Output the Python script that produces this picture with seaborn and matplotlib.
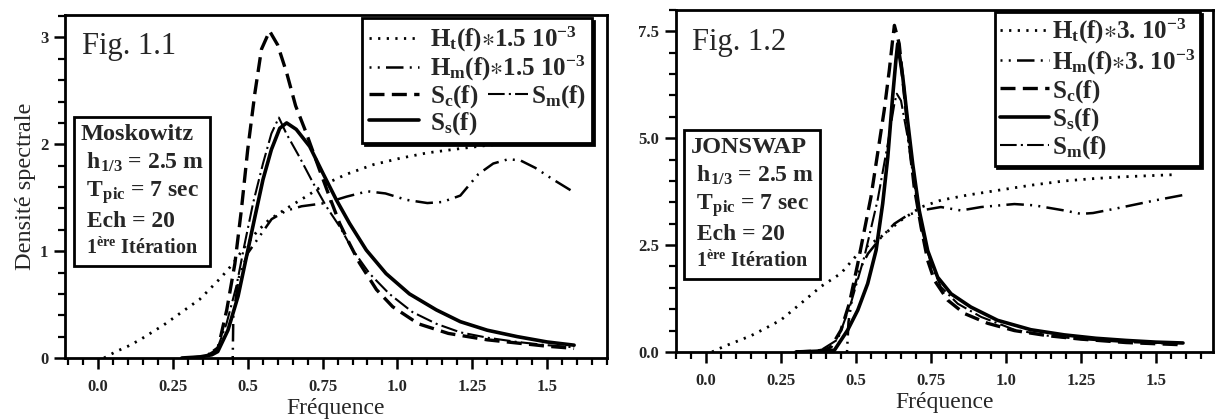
import matplotlib
matplotlib.use("Agg")
import matplotlib.pyplot as plt
from matplotlib.ticker import MultipleLocator
from matplotlib.offsetbox import TextArea, VPacker, AnchoredOffsetbox
import seaborn as sns

# ---------------------------------------------------------------- data
# Fig. 1.1 : Moskowitz spectrum
mosk_ht_f = [0.02, 0.06, 0.10, 0.14, 0.18, 0.22, 0.27, 0.34, 0.41, 0.45, 0.49, 0.53,
             0.57, 0.63, 0.70, 0.76, 0.83, 0.92, 1.01, 1.10, 1.21, 1.30, 1.40, 1.50, 1.57]
mosk_ht_s = [0.00, 0.06, 0.11, 0.17, 0.24, 0.31, 0.41, 0.55, 0.75, 0.88, 1.04, 1.18,
             1.29, 1.40, 1.52, 1.63, 1.72, 1.81, 1.87, 1.92, 1.96, 1.99, 2.02, 2.04, 2.06]

mosk_hm_f = [0.45, 0.452, 0.47, 0.50, 0.54, 0.58, 0.63, 0.68, 0.76, 0.83, 0.90, 0.96,
             1.03, 1.10, 1.15, 1.21, 1.27, 1.32, 1.37, 1.41, 1.46, 1.52, 1.59]
mosk_hm_s = [0.00, 0.40, 0.75, 0.98, 1.14, 1.30, 1.38, 1.42, 1.45, 1.51, 1.56, 1.54,
             1.48, 1.45, 1.46, 1.52, 1.72, 1.82, 1.86, 1.85, 1.78, 1.67, 1.55]

mosk_sc_f = [0.30, 0.36, 0.40, 0.43, 0.457, 0.479, 0.50, 0.524, 0.546, 0.573, 0.60, 0.63,
             0.66, 0.695, 0.74, 0.773, 0.807, 0.84, 0.873, 0.93, 0.984, 1.07, 1.17, 1.30,
             1.40, 1.50, 1.59]
mosk_sc_s = [0.00, 0.01, 0.08, 0.45, 0.88, 1.39, 1.95, 2.48, 2.89, 3.06, 2.93, 2.67,
             2.36, 2.11, 1.76, 1.51, 1.26, 1.07, 0.89, 0.64, 0.48, 0.32, 0.23, 0.17,
             0.14, 0.11, 0.09]

mosk_ss_f = [0.28, 0.34, 0.38, 0.40, 0.434, 0.468, 0.496, 0.524, 0.551, 0.579, 0.607, 0.63,
             0.662, 0.707, 0.751, 0.796, 0.84, 0.896, 0.962, 1.04, 1.13, 1.21, 1.30, 1.40,
             1.50, 1.59]
mosk_ss_s = [0.00, 0.01, 0.03, 0.06, 0.26, 0.58, 0.95, 1.32, 1.67, 1.95, 2.15, 2.20,
             2.14, 1.98, 1.73, 1.48, 1.26, 1.01, 0.79, 0.60, 0.45, 0.34, 0.26, 0.20,
             0.15, 0.12]

mosk_sm_f = [0.30, 0.36, 0.40, 0.429, 0.462, 0.49, 0.518, 0.551, 0.579, 0.604, 0.629, 0.673,
             0.718, 0.762, 0.807, 0.851, 0.907, 0.973, 1.05, 1.13, 1.21, 1.30, 1.40, 1.50, 1.59]
mosk_sm_s = [0.00, 0.02, 0.10, 0.32, 0.67, 1.07, 1.45, 1.82, 2.10, 2.25, 2.10, 1.88,
             1.64, 1.42, 1.23, 1.01, 0.79, 0.60, 0.43, 0.32, 0.24, 0.19, 0.15, 0.12, 0.10]

# Fig. 1.2 : JONSWAP spectrum
jon_ht_f = [0.02, 0.06, 0.10, 0.15, 0.20, 0.25, 0.317, 0.383, 0.45, 0.517, 0.583, 0.65,
            0.717, 0.783, 0.872, 0.972, 1.083, 1.194, 1.30, 1.40, 1.50, 1.57]
jon_ht_s = [0.00, 0.13, 0.24, 0.38, 0.56, 0.75, 1.14, 1.53, 1.84, 2.38, 2.69, 3.08,
            3.39, 3.55, 3.67, 3.78, 3.90, 4.00, 4.06, 4.10, 4.13, 4.15]

jon_hm_f = [0.47, 0.475, 0.49, 0.51, 0.54, 0.58, 0.628, 0.672, 0.717, 0.783, 0.85, 0.917,
            1.028, 1.094, 1.194, 1.25, 1.29, 1.37, 1.50, 1.59]
jon_hm_s = [0.00, 0.70, 1.40, 1.90, 2.30, 2.65, 3.00, 3.20, 3.31, 3.39, 3.31, 3.39,
            3.46, 3.43, 3.31, 3.23, 3.25, 3.36, 3.55, 3.67]

jon_sc_f = [0.30, 0.37, 0.40, 0.417, 0.45, 0.478, 0.506, 0.528, 0.55, 0.572, 0.594, 0.611,
            0.622, 0.628, 0.644, 0.661, 0.678, 0.694, 0.717, 0.739, 0.761, 0.806, 0.861,
            0.939, 1.028, 1.139, 1.25, 1.40, 1.58]
jon_sc_s = [0.00, 0.02, 0.06, 0.12, 0.51, 1.14, 2.07, 2.85, 3.63, 4.64, 5.65, 6.59,
            7.29, 7.64, 7.21, 6.04, 4.87, 3.86, 2.92, 2.14, 1.68, 1.21, 0.90,
            0.67, 0.50, 0.38, 0.30, 0.22, 0.17]

jon_ss_f = [0.30, 0.38, 0.428, 0.472, 0.506, 0.539, 0.567, 0.589, 0.606, 0.622, 0.633, 0.639,
            0.656, 0.672, 0.689, 0.711, 0.739, 0.772, 0.817, 0.883, 0.972, 1.083, 1.194,
            1.30, 1.40, 1.50, 1.59]
jon_ss_s = [0.00, 0.02, 0.04, 0.51, 0.98, 1.60, 2.38, 3.47, 4.56, 5.96, 6.82, 7.21,
            6.43, 5.41, 4.40, 3.30, 2.37, 1.75, 1.36, 1.05, 0.74, 0.52, 0.40,
            0.32, 0.27, 0.23, 0.21]

jon_sm_f = [0.30, 0.38, 0.439, 0.483, 0.528, 0.572, 0.606, 0.628, 0.636, 0.65, 0.672, 0.694,
            0.717, 0.75, 0.783, 0.839, 0.917, 1.028, 1.139, 1.25, 1.40, 1.58]
jon_sm_s = [0.00, 0.03, 0.29, 1.14, 2.23, 3.55, 4.87, 5.81, 6.04, 5.88, 5.03, 3.94,
            2.92, 2.06, 1.52, 1.13, 0.82, 0.52, 0.38, 0.30, 0.23, 0.19]

x_ticks = [0.0, 0.25, 0.5, 0.75, 1.0, 1.25, 1.5]
x_tick_labels = ["0.0", "0.25", "0.5", "0.75", "1.0", "1.25", "1.5"]
mosk_y_ticks = [0, 1, 2, 3]
mosk_y_tick_labels = ["0", "1", "2", "3"]
jon_y_ticks = [0.0, 2.5, 5.0, 7.5]
jon_y_tick_labels = ["0.0", "2.5", "5.0", "7.5"]

mosk_labels = {
    "ht": r"H$_t$(f)$\ast$1.5 10$^{-3}$",
    "hm": r"H$_m$(f)$\ast$1.5 10$^{-3}$",
    "sc": r"S$_c$(f)",
    "ss": r"S$_s$(f)",
    "sm": r"S$_m$(f)",
}
jon_labels = {
    "ht": r"H$_t$(f)$\ast$3. 10$^{-3}$",
    "hm": r"H$_m$(f)$\ast$3. 10$^{-3}$",
    "sc": r"S$_c$(f)",
    "ss": r"S$_s$(f)",
    "sm": r"S$_m$(f)",
}

mosk_info_lines = ["Moskowitz", " h$_{1/3}$ = 2.5 m", " T$_{pic}$ = 7 sec", " Ech = 20",
                   " 1$^{ère}$ Itération"]
jon_info_lines = ["JONSWAP", " h$_{1/3}$ = 2.5 m", " T$_{pic}$ = 7 sec", " Ech = 20",
                  " 1$^{ère}$ Itération"]
info_sizes = [17.5, 17, 17, 17, 14.5]

# ---------------------------------------------------------------- style
sns.set_style("ticks")
plt.rcParams.update({
    "font.family": ["Liberation Serif", "DejaVu Serif"],
    "mathtext.fontset": "custom",
    "mathtext.rm": "Liberation Serif:bold",
    "mathtext.bf": "Liberation Serif:bold",
    "mathtext.it": "Liberation Serif:bold",
    "mathtext.default": "regular",
    "axes.linewidth": 2.0,
    "axes.edgecolor": "black",
})

LINE_STYLES = {
    "ht": dict(linestyle=(0, (0.8, 2.3)), linewidth=2.0),
    "hm": dict(linestyle=(9.5, (7, 2.5, 0.8, 2.5, 0.8, 2.5)), linewidth=1.8),
    "sc": dict(linestyle=(0, (4.5, 2.2)), linewidth=2.4),
    "ss": dict(linestyle="-", linewidth=2.6),
    "sm": dict(linestyle=(0, (8, 2, 1, 2)), linewidth=1.5),
}

LEG_FONT = dict(family="Liberation Serif", weight="bold", size=18)


def draw_curves(ax, series, labels):
    handles = {}
    for key in ["ht", "hm", "sc", "ss", "sm"]:
        f, s = series[key]
        sns.lineplot(x=f, y=s, ax=ax, color="black", sort=False, estimator=None,
                     label=labels[key], legend=False, **LINE_STYLES[key])
        handles[key] = ax.lines[-1]
    return handles


def style_axes(ax, xlim, ylim, yticks, ylabels, yminor):
    ax.set_xlim(*xlim)
    ax.set_ylim(*ylim)
    ax.set_xticks(x_ticks, labels=x_tick_labels)
    ax.set_yticks(yticks, labels=ylabels)
    ax.xaxis.set_minor_locator(MultipleLocator(0.05))
    ax.yaxis.set_minor_locator(MultipleLocator(yminor))
    ax.tick_params(which="major", direction="out", length=8, width=1.8, color="black",
                   labelsize=12)
    ax.tick_params(axis="x", which="major", pad=7)
    ax.tick_params(axis="y", which="major", pad=4)
    ax.tick_params(which="minor", direction="out", length=5, width=1.6, color="black")
    for lab in ax.get_xticklabels() + ax.get_yticklabels():
        lab.set_fontweight("bold")
    for sp in ax.spines.values():
        sp.set_linewidth(2.0)
        sp.set_visible(True)
    ax.set_xlabel("Fréquence", fontsize=17, labelpad=2)


def framed_legend(ax, handles, labels, anchor, **kw):
    leg = ax.legend(handles=handles, labels=labels, loc="upper right",
                    bbox_to_anchor=anchor, borderaxespad=0, frameon=True,
                    fancybox=False, edgecolor="black", framealpha=1,
                    shadow={"color": "black", "alpha": 1, "ox": 1.5, "oy": -1.5},
                    prop=LEG_FONT, **kw)
    leg.get_frame().set_linewidth(2.0)
    return leg


def info_box(ax, lines, anchor):
    kids = [TextArea(txt, textprops=dict(fontsize=size, fontweight="bold",
                                         family="Liberation Serif"))
            for txt, size in zip(lines, info_sizes)]
    pack = VPacker(children=kids, align="left", pad=0, sep=4)
    box = AnchoredOffsetbox(loc="upper left", child=pack, pad=0.3, borderpad=0,
                            frameon=True, bbox_to_anchor=anchor,
                            bbox_transform=ax.transAxes, prop=dict(size=16))
    box.patch.set_linewidth(2.0)
    box.patch.set_edgecolor("black")
    box.patch.set_facecolor("white")
    ax.add_artist(box)
    return box


fig = plt.figure(figsize=(12.18, 4.19), dpi=100)
ax1 = fig.add_axes([0.0534, 0.1456, 0.445, 0.8186])
ax2 = fig.add_axes([0.555, 0.160, 0.4409, 0.8162])

# ---- Fig. 1.1
h1 = draw_curves(ax1, {
    "ht": (mosk_ht_f, mosk_ht_s), "hm": (mosk_hm_f, mosk_hm_s),
    "sc": (mosk_sc_f, mosk_sc_s), "ss": (mosk_ss_f, mosk_ss_s),
    "sm": (mosk_sm_f, mosk_sm_s)}, mosk_labels)
style_axes(ax1, (-0.11, 1.70), (0, 3.21), mosk_y_ticks, mosk_y_tick_labels, 0.2)
ax1.set_ylabel("Densité spectrale", fontsize=17.5, labelpad=3)

leg1 = framed_legend(ax1, [h1[k] for k in ["ht", "hm", "sc", "ss"]],
                     [mosk_labels[k] for k in ["ht", "hm", "sc", "ss"]],
                     (0.972, 0.99), handlelength=2.0, handletextpad=0.45,
                     labelspacing=0.0, borderpad=0.25)
ax1.add_artist(leg1)

ax1.text(0.031, 0.907, "Fig. 1.1", transform=ax1.transAxes, fontsize=22, va="center",
         ha="left")
info_box(ax1, mosk_info_lines, (0.0166, 0.7026))

# ---- Fig. 1.2
h2 = draw_curves(ax2, {
    "ht": (jon_ht_f, jon_ht_s), "hm": (jon_hm_f, jon_hm_s),
    "sc": (jon_sc_f, jon_sc_s), "ss": (jon_ss_f, jon_ss_s),
    "sm": (jon_sm_f, jon_sm_s)}, jon_labels)
style_axes(ax2, (-0.10, 1.69), (0, 8.0), jon_y_ticks, jon_y_tick_labels, 0.5)
ax2.set_ylabel("")

order = ["ht", "hm", "sc", "ss", "sm"]
leg2 = framed_legend(ax2, [h2[k] for k in order], [jon_labels[k] for k in order],
                     (0.976, 0.994), handlelength=1.95, handletextpad=0.12,
                     labelspacing=0.05, borderpad=0.2)

ax2.text(0.03, 0.904, "Fig. 1.2", transform=ax2.transAxes, fontsize=22, va="center",
         ha="left")
info_box(ax2, jon_info_lines, (0.0149, 0.649))

# S_m(f) shares the S_c(f) row of the first legend, to the right of its label
fig.canvas.draw()
renderer = fig.canvas.get_renderer()
sc_box = leg1.get_texts()[2].get_window_extent(renderer)
anchor = ax1.transAxes.inverted().transform((sc_box.x1 + 10, 0.5 * (sc_box.y0 + sc_box.y1)))
ax1.legend(handles=[h1["sm"]], labels=[mosk_labels["sm"]], loc="center left",
           bbox_to_anchor=tuple(anchor), borderaxespad=0, borderpad=0, frameon=False,
           prop=LEG_FONT, handlelength=1.6, handletextpad=0.1)

fig.savefig("out.png", dpi=100)
